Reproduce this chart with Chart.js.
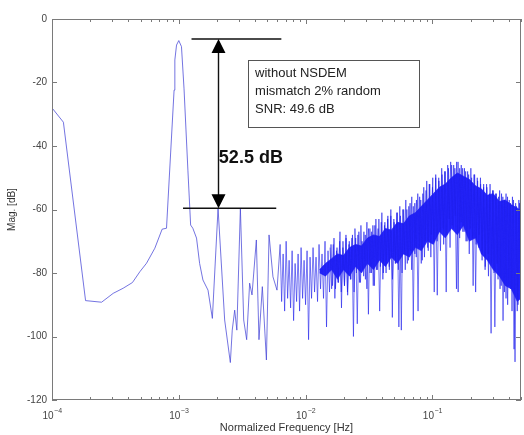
<!DOCTYPE html>
<html>
<head>
<meta charset="utf-8">
<script src="https://cdn.jsdelivr.net/npm/chart.js@4/dist/chart.umd.min.js"></script>
<style>
    body { margin: 0; background: #fff; }
    canvas { display: block; }
</style>
</head>
<body>
<canvas id="spectrum" width="524" height="435"></canvas>
<script>
// Clean part of the spectrum (tone + harmonics)
const lowFreq = [1.0e-4, 1.23e-4, 1.84e-4, 2.46e-4, 3.04e-4, 3.64e-4, 4.31e-4, 4.93e-4, 5.57e-4, 6.47e-4,
    7.39e-4, 8.0e-4, 9.18e-4, 9.31e-4, 9.6e-4, 1.0e-3, 1.05e-3, 1.10e-3, 1.18e-3, 1.24e-3,
    1.29e-3, 1.38e-3, 1.46e-3, 1.55e-3, 1.70e-3, 1.84e-3, 2.04e-3, 2.30e-3, 2.55e-3, 2.64e-3,
    2.76e-3, 2.87e-3, 3.06e-3, 3.25e-3, 3.43e-3, 3.62e-3, 3.78e-3, 4.09e-3, 4.29e-3, 4.56e-3,
    4.91e-3, 5.15e-3, 5.53e-3, 5.95e-3];
const lowDb = [-28, -32.5, -88.7, -89.2, -86.4, -84.8, -83.0, -79.6, -76.9, -72.2,
    -66.2, -65.9, -22.4, -12.9, -8.2, -6.8, -8.7, -22, -47.6, -64.9,
    -65.9, -69, -77, -82.2, -85.4, -94.3, -59.6, -94.8, -108.2, -98,
    -91.7, -98, -59.6, -94.8, -101, -83.2, -86.9, -69.6, -101, -84.3,
    -107.4, -68, -81.2, -85.4];

// Noise-shaped band: peak/trough pairs read along the band, on a log bin grid
const noiseStart = 6.3e-3;
const noiseEnd = 0.5;
const noiseDb = [
    -71, -89, -74, -92, -70, -88, -76, -91, -73, -95, -77, -89, -74, -92, -72, -88, -76, -90, -73, -101, -75, -88,
    -72, -86, -75, -89, -71, -85, -74, -88, -70, -97, -73, -86, -71, -84,
    -69, -85, -72, -83, -67, -91, -70, -84, -68, -86, -71, -82, -69, -100,
    -66, -80, -68, -83, -65, -79, -67, -82, -64, -93, -66, -80, -65, -84, -63, -79,
    -63, -78, -61, -80, -64, -76, -62, -79, -60, -94, -63, -77, -61, -79, -59, -98,
    -60, -74, -57, -77, -59, -73, -56, -95, -58, -75, -55, -72, -57, -76,
    -53, -70, -51, -73, -52, -68, -50, -86, -49, -70, -50, -67,
    -47, -66, -48, -86, -46, -63, -45, -65, -46, -62, -45, -86, -47, -64,
    -47, -67, -48, -70, -49, -66, -50, -84, -49, -71, -51, -68,
    -52, -76, -53, -79, -52, -74, -55, -99, -54, -80, -55, -77,
    -56, -85, -55, -95, -57, -88, -56, -84, -58, -92, -57, -108, -59, -90, -58, -96
];

// The in-between bins of the denser right part of the band
const noise2Start = 0.0156;
const noise2End = 0.495;
const noise2Db = [
    -72, -85, -71, -88, -73, -83, -70, -86, -72, -84, -69, -87,
    -70, -82, -68, -86, -69, -96, -67, -83, -70, -81, -68, -85,
    -66, -80, -67, -84, -65, -79, -66, -92, -64, -82, -65, -80,
    -63, -78, -62, -82, -64, -77, -61, -97, -62, -80, -60, -79,
    -60, -76, -58, -79, -59, -74, -57, -92, -56, -77, -55, -75,
    -54, -72, -52, -75, -53, -70, -50, -87, -51, -73, -49, -71,
    -48, -68, -47, -72, -46, -66, -47, -85, -45, -69, -46, -67,
    -47, -70, -48, -74, -47, -69, -49, -86, -50, -72, -50, -74,
    -52, -78, -53, -81, -52, -77, -54, -97, -55, -82, -54, -84,
    -56, -86, -55, -90, -57, -85, -56, -104, -58, -92, -57, -88
];

// Solid core of the band, where the trace is too dense to separate
const coreFreq = [0.01288, 0.01435, 0.01603, 0.01786, 0.01991, 0.02218, 0.02477, 0.02761, 0.03076, 0.03428,
    0.03828, 0.04266, 0.04753, 0.05297, 0.05916, 0.06592, 0.07345, 0.08185, 0.09141, 0.1019,
    0.1135, 0.1265, 0.1413, 0.1574, 0.1754, 0.1954, 0.2183, 0.2432, 0.2710, 0.3020,
    0.3373, 0.3758, 0.4188, 0.4667, 0.5];
const coreTop = [-79, -77, -75.5, -74, -74.5, -72, -71, -71.5, -69, -68,
    -68.5, -66, -66.5, -64, -64.5, -62, -61, -59, -57, -55,
    -53, -52, -50, -48.5, -49.5, -50.5, -52.5, -53.5, -55.5, -55,
    -57.5, -57, -58.5, -59.5, -60.5];
const coreBottom = [-80, -81, -79, -82, -79, -81, -78, -80, -77, -79,
    -76, -78, -75, -77, -74, -75, -72, -73, -70, -71,
    -67, -69, -66, -68, -65, -70, -69, -74, -76, -79,
    -81, -84, -85, -89, -88];

// Axis ticks
const xDecades = [1e-4, 1e-3, 1e-2, 1e-1];
const xMinorSteps = [2, 3, 4, 5, 6, 7, 8, 9];
const yTickValues = [-120, -100, -80, -60, -40, -20, 0];

// Annotation
const boxLines = ['without NSDEM', 'mismatch 2% random', 'SNR: 49.6 dB'];
const gapLabel = '52.5 dB';

function onLogGrid(values, f0, f1) {
    return values.map((db, i) => ({
        x: f0 * Math.pow(f1 / f0, i / (values.length - 1)),
        y: db
    }));
}

const cleanPoints = lowFreq.map((f, i) => ({ x: f, y: lowDb[i] }));
cleanPoints.push({ x: noiseStart, y: noiseDb[0] });
const noisePoints = onLogGrid(noiseDb, noiseStart, noiseEnd);
const noise2Points = onLogGrid(noise2Db, noise2Start, noise2End);
const topPoints = coreFreq.map((f, i) => ({ x: f, y: coreTop[i] }));
const bottomPoints = coreFreq.map((f, i) => ({ x: f, y: coreBottom[i] }));

const font = '"Liberation Sans", Arial, sans-serif';

const frame = {
    id: 'frame',
    afterDatasetsDraw(chart) {
        const { ctx, chartArea: a, scales: { x, y } } = chart;
        ctx.save();

        // box
        ctx.strokeStyle = '#7a7a7a';
        ctx.lineWidth = 1;
        ctx.strokeRect(a.left + 0.5, a.top + 0.5, a.right - a.left - 1, a.bottom - a.top - 1);

        // inward ticks
        ctx.beginPath();
        yTickValues.forEach(v => {
            const py = Math.round(y.getPixelForValue(v)) + 0.5;
            ctx.moveTo(a.left, py); ctx.lineTo(a.left + 5, py);
            ctx.moveTo(a.right, py); ctx.lineTo(a.right - 5, py);
        });
        xDecades.forEach(d => {
            const px = Math.round(x.getPixelForValue(d)) + 0.5;
            ctx.moveTo(px, a.bottom); ctx.lineTo(px, a.bottom - 5);
            ctx.moveTo(px, a.top); ctx.lineTo(px, a.top + 5);
            xMinorSteps.forEach(m => {
                if (d * m > x.max) return;
                const mx = Math.round(x.getPixelForValue(d * m)) + 0.5;
                ctx.moveTo(mx, a.bottom); ctx.lineTo(mx, a.bottom - 3);
                ctx.moveTo(mx, a.top); ctx.lineTo(mx, a.top + 3);
            });
        });
        ctx.stroke();

        // x labels 10^n
        ctx.fillStyle = '#444';
        ctx.textBaseline = 'alphabetic';
        ctx.textAlign = 'left';
        xDecades.forEach(d => {
            const px = x.getPixelForValue(d);
            const exp = '\u2212' + Math.round(-Math.log10(d));
            ctx.font = '10px ' + font;
            const w1 = ctx.measureText('10').width;
            ctx.font = '7px ' + font;
            const w2 = ctx.measureText(exp).width;
            const left = px - (w1 + w2) / 2;
            ctx.font = '10px ' + font;
            ctx.fillText('10', left, a.bottom + 19);
            ctx.font = '7px ' + font;
            ctx.fillText(exp, left + w1 + 0.5, a.bottom + 13);
        });

        // dB gap annotation
        const fArrow = 2.02e-3;
        const topDb = -6.3, botDb = -59.6;
        const ax = Math.round(x.getPixelForValue(fArrow)) + 0.5;
        const yTop = y.getPixelForValue(topDb);
        const yBot = y.getPixelForValue(botDb);
        ctx.strokeStyle = '#111';
        ctx.lineWidth = 1.4;
        ctx.beginPath();
        ctx.moveTo(x.getPixelForValue(1.26e-3), yTop); ctx.lineTo(x.getPixelForValue(6.44e-3), yTop);
        ctx.moveTo(x.getPixelForValue(1.08e-3), yBot); ctx.lineTo(x.getPixelForValue(5.87e-3), yBot);
        ctx.moveTo(ax, yTop + 12); ctx.lineTo(ax, yBot - 12);
        ctx.stroke();
        ctx.fillStyle = '#000';
        ctx.beginPath();
        ctx.moveTo(ax, yTop); ctx.lineTo(ax - 7, yTop + 14); ctx.lineTo(ax + 7, yTop + 14); ctx.closePath();
        ctx.moveTo(ax, yBot); ctx.lineTo(ax - 7, yBot - 14); ctx.lineTo(ax + 7, yBot - 14); ctx.closePath();
        ctx.fill();

        ctx.font = 'bold 18px ' + font;
        ctx.textBaseline = 'middle';
        ctx.fillStyle = '#111';
        ctx.fillText(gapLabel, x.getPixelForValue(2.07e-3), y.getPixelForValue(-43.8));

        // text box
        const bx1 = x.getPixelForValue(3.52e-3), bx2 = x.getPixelForValue(0.078);
        const by1 = y.getPixelForValue(-12.9), by2 = y.getPixelForValue(-34.1);
        ctx.fillStyle = '#fff';
        ctx.fillRect(bx1, by1, bx2 - bx1, by2 - by1);
        ctx.strokeStyle = '#555';
        ctx.lineWidth = 1;
        ctx.strokeRect(Math.round(bx1) + 0.5, Math.round(by1) + 0.5, Math.round(bx2 - bx1), Math.round(by2 - by1));
        ctx.fillStyle = '#222';
        ctx.font = '13px ' + font;
        boxLines.forEach((t, i) => ctx.fillText(t, bx1 + 7, by1 + 13.5 + i * 18));

        ctx.restore();
    }
};

const trace = (data, color) => ({
    data,
    borderColor: color,
    borderWidth: 1,
    pointRadius: 0,
    tension: 0,
    fill: false
});

new Chart(document.getElementById('spectrum'), {
    type: 'line',
    data: {
        datasets: [
            trace(cleanPoints, 'rgba(70, 70, 215, 0.75)'),
            trace(noisePoints, 'rgba(30, 30, 235, 0.6)'),
            trace(noise2Points, 'rgba(30, 30, 240, 0.6)'),
            {
                data: topPoints,
                borderColor: 'rgba(20, 20, 255, 0.7)',
                borderWidth: 1,
                backgroundColor: 'rgba(20, 20, 255, 0.92)',
                pointRadius: 0,
                tension: 0,
                fill: '+1'
            },
            trace(bottomPoints, 'rgba(20, 20, 255, 0.45)')
        ]
    },
    options: {
        responsive: false,
        animation: false,
        layout: { padding: { left: 0, top: 19, right: 3, bottom: 0 } },
        plugins: { legend: { display: false }, tooltip: { enabled: false } },
        scales: {
            x: {
                type: 'logarithmic',
                min: 1e-4,
                max: 0.5,
                grid: { display: false },
                border: { display: false },
                ticks: { display: false },
                title: {
                    display: true,
                    text: 'Normalized Frequency [Hz]',
                    color: '#333',
                    font: { family: font, size: 11 },
                    padding: { top: 0, bottom: 0 }
                },
                afterFit: s => { s.height = 35; }
            },
            y: {
                min: -120,
                max: 0,
                grid: { display: false, drawTicks: false },
                border: { display: false },
                afterBuildTicks: s => { s.ticks = yTickValues.map(v => ({ value: v })); },
                ticks: {
                    padding: 5,
                    color: '#444',
                    font: { family: font, size: 10 }
                },
                title: {
                    display: true,
                    text: 'Mag. [dB]',
                    color: '#333',
                    font: { family: font, size: 10 },
                    padding: { top: 6, bottom: 0 }
                },
                afterFit: s => { s.width = 52; }
            }
        }
    },
    plugins: [frame]
});
</script>
</body>
</html>
